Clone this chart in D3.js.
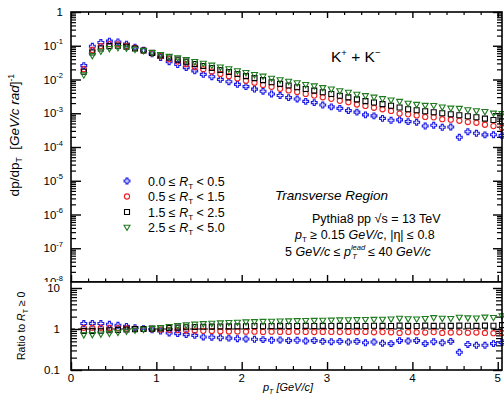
<!DOCTYPE html>
<html>
<head>
<meta charset="utf-8">
<script src="https://cdn.jsdelivr.net/npm/d3@7"></script>
<style>
  body { margin: 0; background: #fff; }
  svg { display: block; font-family: "Liberation Sans", Arial, Helvetica, sans-serif; }
</style>
</head>
<body>
<svg id="chart" width="504" height="396"></svg>
<script>
// pT bin centres (GeV/c)
const pt = [0.15, 0.25, 0.35, 0.45, 0.55, 0.65, 0.75, 0.85, 0.95, 1.05,
            1.15, 1.25, 1.35, 1.45, 1.55, 1.65, 1.75, 1.85, 1.95, 2.05,
            2.15, 2.25, 2.35, 2.45, 2.55, 2.65, 2.75, 2.85, 2.95, 3.05,
            3.15, 3.25, 3.35, 3.45, 3.55, 3.65, 3.75, 3.85, 3.95, 4.05,
            4.15, 4.25, 4.35, 4.45, 4.55, 4.65, 4.75, 4.85, 4.95, 5.05];

// dp/dpT for K+ + K- in the transverse region, per R_T class
const yieldRT00 = [0.0257, 0.0962, 0.1245, 0.1368, 0.1294, 0.1114, 0.0906, 0.0740, 0.0574, 0.0449,
                   0.0337, 0.0277, 0.0225, 0.0180, 0.0142, 0.0121, 0.0101, 0.00859, 0.00716, 0.00614,
                   0.00520, 0.00449, 0.00373, 0.00336, 0.00291, 0.00264, 0.00225, 0.00206, 0.00175, 0.00154,
                   0.00139, 0.00120, 0.00108, 0.000893, 0.000836, 0.000703, 0.000618, 0.000635, 0.000565, 0.000542,
                   0.000417, 0.000441, 0.000384, 0.000392, 0.000194, 0.000284, 0.000255, 0.000229, 0.000231, 0.000218];
const yieldRT05 = [0.0202, 0.0750, 0.0977, 0.1114, 0.1104, 0.0991, 0.0857, 0.0724, 0.0598, 0.0490,
                   0.0401, 0.0339, 0.0284, 0.0234, 0.0200, 0.0171, 0.0146, 0.0125, 0.01076, 0.00925,
                   0.00798, 0.00693, 0.00605, 0.00528, 0.00475, 0.00429, 0.00374, 0.00333, 0.00297, 0.00267,
                   0.00233, 0.00212, 0.00181, 0.00165, 0.00145, 0.00131, 0.00117, 0.000977, 0.000929, 0.000865,
                   0.000778, 0.000755, 0.000667, 0.000643, 0.000597, 0.000548, 0.000522, 0.000457, 0.000416, 0.000372];
const yieldRT15 = [0.0170, 0.0631, 0.0832, 0.0977, 0.1000, 0.0933, 0.0832, 0.0724, 0.0617, 0.0525,
                   0.0447, 0.0389, 0.0339, 0.0288, 0.0251, 0.0219, 0.0191, 0.0166, 0.0145, 0.0126,
                   0.0110, 0.00955, 0.00832, 0.00741, 0.00661, 0.00589, 0.00525, 0.00468, 0.00417, 0.00372,
                   0.00331, 0.00295, 0.00257, 0.00229, 0.00209, 0.00186, 0.00166, 0.00148, 0.00132, 0.00123,
                   0.00115, 0.00107, 0.00100, 0.000933, 0.000871, 0.000813, 0.000759, 0.000692, 0.000631, 0.000575];
const yieldRT25 = [0.0134, 0.0505, 0.0676, 0.0809, 0.0863, 0.0837, 0.0773, 0.0703, 0.0617, 0.0540,
                   0.0476, 0.0430, 0.0382, 0.0333, 0.0296, 0.0261, 0.0230, 0.0203, 0.0178, 0.0158,
                   0.0138, 0.0123, 0.0107, 0.00959, 0.00867, 0.00783, 0.00697, 0.00634, 0.00564, 0.00511,
                   0.00456, 0.00412, 0.00358, 0.00326, 0.00294, 0.00265, 0.00242, 0.00220, 0.00194, 0.00180,
                   0.00168, 0.00167, 0.00150, 0.00139, 0.00137, 0.00125, 0.00116, 0.00110, 0.000989, 0.000953];

// ratio of each R_T class to the R_T >= 0 spectrum
const ratioRT00 = [1.36, 1.37, 1.36, 1.30, 1.23, 1.16, 1.08, 1.02, 0.95, 0.89,
                   0.80, 0.77, 0.73, 0.70, 0.64, 0.63, 0.61, 0.60, 0.58, 0.57,
                   0.56, 0.55, 0.53, 0.54, 0.52, 0.53, 0.51, 0.52, 0.50, 0.49,
                   0.50, 0.48, 0.50, 0.46, 0.48, 0.45, 0.44, 0.52, 0.51, 0.52,
                   0.44, 0.49, 0.46, 0.50, 0.27, 0.42, 0.40, 0.40, 0.44, 0.47];
const ratioRT05 = [1.07, 1.07, 1.07, 1.06, 1.05, 1.03, 1.02, 1.00, 0.99, 0.97,
                   0.95, 0.94, 0.92, 0.91, 0.90, 0.89, 0.88, 0.87, 0.87, 0.86,
                   0.86, 0.85, 0.86, 0.85, 0.85, 0.86, 0.85, 0.84, 0.85, 0.85,
                   0.84, 0.85, 0.84, 0.85, 0.83, 0.84, 0.83, 0.80, 0.84, 0.83,
                   0.82, 0.84, 0.80, 0.82, 0.83, 0.81, 0.82, 0.80, 0.79, 0.80];
const ratioRT15 = [0.90, 0.90, 0.91, 0.93, 0.95, 0.97, 0.99, 1.00, 1.02, 1.04,
                   1.06, 1.08, 1.10, 1.12, 1.13, 1.14, 1.15, 1.16, 1.17, 1.17,
                   1.18, 1.17, 1.18, 1.19, 1.18, 1.18, 1.19, 1.18, 1.19, 1.18,
                   1.19, 1.18, 1.19, 1.18, 1.20, 1.19, 1.18, 1.21, 1.19, 1.18,
                   1.21, 1.19, 1.20, 1.19, 1.21, 1.20, 1.19, 1.21, 1.20, 1.24];
const ratioRT25 = [0.71, 0.72, 0.74, 0.77, 0.82, 0.87, 0.92, 0.97, 1.02, 1.07,
                   1.13, 1.19, 1.24, 1.29, 1.33, 1.36, 1.39, 1.42, 1.44, 1.47,
                   1.49, 1.51, 1.52, 1.54, 1.55, 1.57, 1.58, 1.60, 1.61, 1.62,
                   1.64, 1.65, 1.66, 1.68, 1.69, 1.70, 1.72, 1.80, 1.75, 1.73,
                   1.77, 1.86, 1.80, 1.78, 1.90, 1.84, 1.82, 1.92, 1.88, 2.05];

const classLabels = [["0.0", "0.5"], ["0.5", "1.5"], ["1.5", "2.5"], ["2.5", "5.0"]];
const classColors = ["#1c1ce8", "#ee2222", "#000000", "#1d7a1d"];
const classSymbols = ["cross", "circle", "square", "triangleDown"];
const yieldSets = [yieldRT00, yieldRT05, yieldRT15, yieldRT25];
const ratioSets = [ratioRT00, ratioRT05, ratioRT15, ratioRT25];

const xTicks = [0, 1, 2, 3, 4, 5];
const topExponents = [-8, -7, -6, -5, -4, -3, -2, -1, 0];
const ratioTicks = [0.1, 1, 10];

// ---------------------------------------------------------------- layout
const svg = d3.select("#chart");
const L = 71, R = 502, T1 = 12, B1 = 282, T2 = 282, B2 = 370;

const x = d3.scaleLinear().domain([0, 5.05]).range([L, R]);
const yTop = d3.scaleLog().domain([1e-8, 1]).range([B1, T1]);
const yBot = d3.scaleLog().domain([0.1, 14]).range([B2, T2]);

svg.append("rect").attr("width", 504).attr("height", 396).attr("fill", "#fff");

// open marker shapes, centred on the origin
function symbolPath(kind) {
  if (kind === "cross") {
    const a = 2.9, w = 1.0;
    return `M${-w},${-a}H${w}V${-w}H${a}V${w}H${w}V${a}H${-w}V${w}H${-a}V${-w}H${-w}Z`;
  }
  if (kind === "circle") {
    const r = 2.6;
    return `M${-r},0A${r},${r} 0 1,0 ${r},0A${r},${r} 0 1,0 ${-r},0Z`;
  }
  if (kind === "square") {
    const h = 2.5;
    return `M${-h},${-h}H${h}V${h}H${-h}Z`;
  }
  return "M-3,-2.3H3L0,3Z";
}

function minorLogValues(lo, hi) {
  const out = [];
  for (let e = lo; e < hi; e++) for (let m = 2; m <= 9; m++) out.push(m * Math.pow(10, e));
  return out;
}
const xMinor = [0.2, 0.4, 0.6, 0.8, 1.2, 1.4, 1.6, 1.8, 2.2, 2.4, 2.6, 2.8,
                3.2, 3.4, 3.6, 3.8, 4.2, 4.4, 4.6, 4.8];

function tickAxis(gen, scale, values, size, transform, width) {
  const g = svg.append("g").attr("transform", transform)
    .call(gen(scale).tickValues(values).tickSize(size).tickSizeOuter(0).tickFormat(""));
  g.select(".domain").remove();
  g.selectAll("line").attr("stroke", "#000").attr("stroke-width", width);
  return g;
}

function drawMarkers(parent, vals, k, yScale) {
  parent.append("g").selectAll("path").data(pt.map((p, i) => [p, vals[i]])).join("path")
    .attr("d", symbolPath(classSymbols[k]))
    .attr("transform", d => `translate(${x(d[0])},${yScale(d[1])})`)
    .attr("fill", "none").attr("stroke", classColors[k]).attr("stroke-width", 1.1);
}

// ---------------------------------------------------------------- top panel
const topMajor = topExponents.map(e => Math.pow(10, e));
const topMinor = minorLogValues(-8, 0);

tickAxis(d3.axisLeft, yTop, topMajor, -10, `translate(${L},0)`, 1.4);
tickAxis(d3.axisLeft, yTop, topMinor, -5, `translate(${L},0)`, 1.2);
tickAxis(d3.axisRight, yTop, topMajor, -9, `translate(${R},0)`, 1.4);
tickAxis(d3.axisRight, yTop, topMinor, -5, `translate(${R},0)`, 1.2);
tickAxis(d3.axisBottom, x, xTicks, -7, `translate(0,${B1})`, 1.4);
tickAxis(d3.axisBottom, x, xMinor, -3.5, `translate(0,${B1})`, 1.2);
tickAxis(d3.axisTop, x, xTicks, -6, `translate(0,${T1})`, 1.4);
tickAxis(d3.axisTop, x, xMinor, -3, `translate(0,${T1})`, 1.2);

// decade labels
const topLab = svg.append("g").attr("font-size", 11.5).attr("fill", "#000");
topExponents.forEach(e => {
  const t = topLab.append("text").attr("x", 63).attr("y", yTop(Math.pow(10, e)) + 4)
    .attr("text-anchor", "end");
  if (e === 0) { t.text("1"); return; }
  t.append("tspan").text("10");
  t.append("tspan").attr("dy", -5.5).attr("font-size", 7.5).text(String(e));
});

// data points
const topPts = svg.append("g");
yieldSets.forEach((vals, k) => drawMarkers(topPts, vals, k, yTop));

svg.append("rect").attr("x", L).attr("y", T1).attr("width", R - L).attr("height", B1 - T1)
  .attr("fill", "none").attr("stroke", "#000").attr("stroke-width", 1.6);

// y title
const yTitle = svg.append("text").attr("transform", "translate(19,74) rotate(-90)")
  .attr("text-anchor", "end").attr("font-size", 13.5);
yTitle.append("tspan").text("dp/dp");
yTitle.append("tspan").attr("dy", 3).attr("font-size", 8.5).text("T");
yTitle.append("tspan").attr("dy", -3).text("\u00a0 [");
yTitle.append("tspan").attr("font-style", "italic").text("GeV/c rad");
yTitle.append("tspan").text("]");
yTitle.append("tspan").attr("dy", -5.5).attr("font-size", 8.5).text("-1");

// particle label
const kl = svg.append("text").attr("x", 331).attr("y", 62).attr("font-size", 15.5);
kl.append("tspan").text("K");
kl.append("tspan").attr("dy", -6).attr("font-size", 9.5).text("+");
kl.append("tspan").attr("dy", 6).text(" + K");
kl.append("tspan").attr("dy", -6).attr("font-size", 9.5).text("\u2212");

// legend
const leg = svg.append("g").attr("font-size", 12.5);
classLabels.forEach((lab, k) => {
  const cy = 181 + k * 15.5;
  leg.append("path").attr("d", symbolPath(classSymbols[k]))
    .attr("transform", `translate(127,${cy})`)
    .attr("fill", "none").attr("stroke", classColors[k]).attr("stroke-width", 1.1);
  const t = leg.append("text").attr("x", 148).attr("y", cy + 4.5);
  t.append("tspan").text(lab[0] + " \u2264 ");
  t.append("tspan").attr("font-style", "italic").text("R");
  t.append("tspan").attr("dy", 3).attr("font-size", 8).text("T");
  t.append("tspan").attr("dy", -3).text(" < " + lab[1]);
});

// annotations
svg.append("text").attr("x", 275).attr("y", 199.5).attr("font-size", 13.5)
  .attr("font-style", "italic").text("Transverse Region");

const a1 = svg.append("text").attr("x", 312).attr("y", 222.5).attr("font-size", 12.5);
a1.append("tspan").text("Pythia8 pp \u221As = 13 TeV");

const a2 = svg.append("text").attr("x", 295).attr("y", 239).attr("font-size", 12.5);
a2.append("tspan").attr("font-style", "italic").text("p");
a2.append("tspan").attr("dy", 3).attr("font-size", 8).text("T");
a2.append("tspan").attr("dy", -3).text(" \u2265 0.15 ");
a2.append("tspan").attr("font-style", "italic").text("GeV/c");
a2.append("tspan").text(", |\u03b7| \u2264 0.8");

const a3 = svg.append("text").attr("x", 285).attr("y", 255.5).attr("font-size", 12.5);
a3.append("tspan").text("5 ");
a3.append("tspan").attr("font-style", "italic").text("GeV/c");
a3.append("tspan").text(" \u2264  ");
a3.append("tspan").attr("font-style", "italic").text("p");
a3.append("tspan").attr("dy", -6).attr("font-size", 7.5).attr("font-style", "italic").text("lead");
a3.append("tspan").attr("dx", -13).attr("dy", 9.5).attr("font-size", 7.5).attr("font-style", "italic").text("T");
a3.append("tspan").attr("dx", 8).attr("dy", -3.5).text(" \u2264 40 ");
a3.append("tspan").attr("font-style", "italic").text("GeV/c");

// ---------------------------------------------------------------- ratio panel
svg.append("rect").attr("x", 0).attr("y", T2).attr("width", 504).attr("height", 396 - T2).attr("fill", "#fff");

const botMinor = minorLogValues(-1, 1).filter(v => v <= 14);
tickAxis(d3.axisLeft, yBot, ratioTicks, -11, `translate(${L},0)`, 1.4);
tickAxis(d3.axisLeft, yBot, botMinor, -6, `translate(${L},0)`, 1.2);
tickAxis(d3.axisRight, yBot, ratioTicks, -9, `translate(${R},0)`, 1.4);
tickAxis(d3.axisRight, yBot, botMinor, -6, `translate(${R},0)`, 1.2);
tickAxis(d3.axisBottom, x, xTicks, -8, `translate(0,${B2})`, 1.4);
tickAxis(d3.axisBottom, x, xMinor, -4, `translate(0,${B2})`, 1.2);

svg.append("line").attr("x1", L).attr("x2", R).attr("y1", yBot(1)).attr("y2", yBot(1))
  .attr("stroke", "#000").attr("stroke-width", 1.1).attr("stroke-dasharray", "4,3");

const botPts = svg.append("g");
ratioSets.forEach((vals, k) => drawMarkers(botPts, vals, k, yBot));

svg.append("rect").attr("x", L).attr("y", T2).attr("width", R - L).attr("height", B2 - T2)
  .attr("fill", "none").attr("stroke", "#000").attr("stroke-width", 1.6);

svg.append("g").attr("font-size", 11.5).selectAll("text").data(ratioTicks).join("text")
  .attr("x", 60).attr("y", d => yBot(d) + 4).attr("text-anchor", "end")
  .text(d => d >= 1 ? String(d) : d.toFixed(1));

svg.append("g").attr("font-size", 11.5).selectAll("text").data(xTicks).join("text")
  .attr("x", d => x(d)).attr("y", 382).attr("text-anchor", "middle").text(d => d);

const rt = svg.append("text").attr("transform", "translate(25,360) rotate(-90)")
  .attr("font-size", 10.5);
rt.append("tspan").text("Ratio to ");
rt.append("tspan").attr("font-style", "italic").text("R");
rt.append("tspan").attr("dy", 3).attr("font-size", 7).text("T");
rt.append("tspan").attr("dy", -3).text(" \u2265 0");

const xt = svg.append("text").attr("x", 288).attr("y", 391).attr("text-anchor", "middle")
  .attr("font-size", 11).attr("font-style", "italic");
xt.append("tspan").text("p");
xt.append("tspan").attr("dy", 3).attr("font-size", 7).text("T");
xt.append("tspan").attr("dy", -3).text(" [GeV/c]");
</script>
</body>
</html>
